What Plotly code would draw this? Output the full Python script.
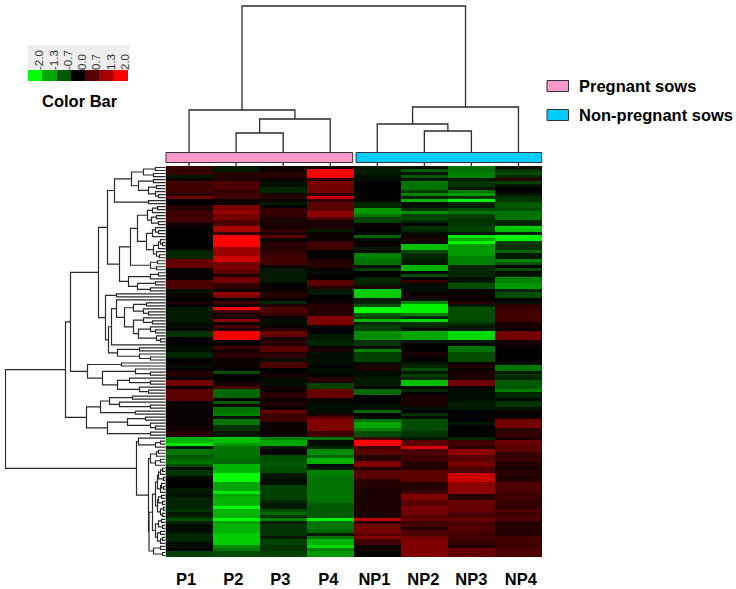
import plotly.graph_objects as go

samples = ["P1", "P2", "P3", "P4", "NP1", "NP2", "NP3", "NP4"]
P1 = [.4,.4,.4,-.2,.1,.5,.5,.5,.5,.3, .9,0,0,.3,.3,.5,.5,.5,.5,.1, .1,0,0,0,0,0,0,0,-.3,-.3,
      -.3,.8,.8,.8,.05,.05,.05,.05,.6,.6, .6,-.1,-.1,.1,0,.2,.05,-.2,-.2,-.2, -.2,-.2,-.1,-.1,0,-.4,-.4,0,0,0,
      -.1,-.1,-.3,-.3,0,.1,-.1,0,.3,.3, 0,.9,.9,.1,.7,.7,.7,.7,0,.05, .05,.05,.05,.05,.05,.05,.1,.1,.3,.3,
      -1.4,-1.4,-1.8,-.2,-.9,-.9,-.7,-.8,-.9,-.6, -.1,-.4,-.4,-.1,0,0,0,-.2,-.2,-.1,
      -.3,-.3,-.3,-.3,-.4,-.2,-.3,-.6,-.3,-.1, -.1,-.1,-.3,-.3,-.3,-.1,-.1,0,-.5,-.5]
P2 = [-.2,-.2,.3,.3,.3,.6,.6,.6,.4,.5, .5,.1,.1,1,1,1.2,.9,.9,.6,.6, 1.3,1.3,.4,2,2,2,2,1.2,1.2,1.2,
      1.6,1.6,.9,.9,.9,.7,.2,.9,.9,.4, .4,.1,1.2,.9,.05,.5,.2,2,.5,.2, .2,1.1,.1,.6,.3,1.9,1.9,1.9,0,0,
      .5,.2,.3,.3,.1,.1,.1,0,-.6,0, 0,0,.2,.6,-.8,-.8,-.8,0,-.7,0, -.9,-.9,-1,-.1,-.9,-.9,-.4,-.4,-.2,-.2,
      -1.5,-1.5,-1.2,-.9,-.9,-.9,-.9,-.8,-.8,-1.4, -1.4,-1.4,-2,-2,-2,-1.3,-1.3,-1.3,-1.8,-1.3,
      -1.4,-1.4,-1.4,-2,-1.4,-1.4,-1.4,-2,-1.3,-1.4, -1.4,-1.4,-1.6,-1.6,-1.6,-1.6,-1.1,-.9,-.6,-.6]
P3 = [.1,.1,.3,.3,.1,-.1,-.1,-.3,-.3,.2, .3,.1,-.2,0,.4,.4,.4,.2,.2,.2, .2,.4,.2,.7,.1,.3,.3,.3,.4,.4,
      .5,.5,.5,.1,-.2,-.2,-.2,-.2,-.2,0, 0,.1,.3,.3,.1,-.3,.2,.6,.6,.4, .1,-.1,-.1,.1,.3,.8,.8,.2,.3,.3,
      .7,.7,.3,.4,-.1,.6,.6,0,0,.2, -.1,-.1,-.1,.1,.1,.3,.3,.1,.2,.2, .1,.8,.5,.5,.5,.1,.1,.1,.1,.1,
      -1,-1.3,-1.3,-.2,0,0,-.6,-.6,-.7,-.7, -.6,-.6,-.2,-.2,-.1,-.1,-.5,-.5,-.5,-.5,
      -.5,-.3,-.2,-.2,-.6,-.8,-.4,-1,-.3,-.4, -.4,-.4,-.4,-.2,-.5,-.5,-.4,-.4,-.5,-.5]
P4 = [.2,2,2,2,.3,1,.9,.9,.9,.4, 1.6,.4,.7,.7,.7,1.1,1.1,.6,.2,.2, .2,-.2,.1,.1,.1,.5,.5,.5,0,0,
      0,.3,.3,.3,.1,-.1,.05,.05,.7,.7, .3,-.2,-.2,0,0,.1,.3,.3,.3,.3, 1,1,1,.1,0,0,-.2,-.2,-.3,-.3,
      .1,.2,-.1,-.1,-.1,-.1,0,-.1,-.1,0, .3,.3,-.5,-.5,.8,.8,.8,.1,-.1,-.1, -.1,-.1,.2,.7,1,1,1,1,.5,.5,
      -.9,-.1,-.1,-.3,-1.1,-1.1,-.8,-1.4,-1.4,-.1, -.2,-1,-1,-.9,-.9,-.9,-.9,-.9,-.9,-.9,
      -.9,-.9,-.7,-.7,-.7,-.7,-.7,-1.9,-.9,-.9, -.9,-.8,-.2,-.9,-1.4,-1.4,-1.7,-1,-1.2,-1.2]
NP1 = [-.2,-.2,-.2,-.1,-.1,0,0,0,0,0, 0,0,-.3,-.3,-1.2,-1.2,-.9,-.5,-.5,.1, 0,0,-.1,-.8,-.1,.05,.05,-.2,-.1,-1,
       -1,-.9,-.9,-.1,-.5,0,0,-.3,-.3,-.2, .2,-1.6,-1.6,-1.6,-.2,-.3,-.6,-2,-2,-.7, -.5,-1.4,-.3,-.5,-.5,-1.1,-1.1,-1.1,-.4,-.4,
       -.1,-1,-.5,-.5,-.5,-.1,.2,.2,-.1,-.1, -.2,-.2,-.2,0,-.8,-.8,0,0,0,-.1, -.1,-.8,0,-.1,-.9,-1.3,-1.3,-1,-.6,-.6,
       .5,2,2,.5,.7,.7,.3,.3,1,1, .3,.7,.7,.7,.3,.3,.3,.2,.2,.2,
       .2,.2,.2,.2,.2,.2,.2,1.5,.3,.9, .9,.9,.7,1,.5,.5,.1,.1,0,0]
NP2 = [-.1,-.7,-.2,-.7,-.2,-.9,-.9,-.9,-.5,-1, -.3,-1.4,-.1,-.1,-.4,-1.1,-.5,-.6,-.3,0, -.4,-.3,-.1,.1,.2,.1,-1.5,-1.5,-.6,-.3,
       -.3,-.2,-.2,-1.4,-1.4,0,-.6,0,.4,-.1, -.1,-.1,.05,.2,-.1,-1,-1.9,-1.9,-1.9,-1, -.3,-1.7,-.4,-.3,-.1,-1.3,-1.3,-1.3,-.2,0,
       0,0,.2,.1,0,-.2,-.3,-.6,-.2,-.5, -.3,-1.5,-1.5,-.1,-.3,0,.2,.2,.2,.2, -.1,0,-.4,-.1,-.6,-.6,-.6,-.6,-.4,-.4,
       -.2,.7,.7,1.7,.6,.6,.5,.5,.3,.3, .3,.7,.7,.7,.7,.3,.3,.3,.5,1,
       1,.7,.7,.9,.9,.9,.7,.8,.5,.5, .3,.6,.6,.9,1,1,1,1,1,1]
NP3 = [-.9,-.9,-1,-1,-.2,-.4,-.4,-.2,-.9,-1.2, -.4,-1.9,-.3,-.2,-.6,-.9,-.5,-.4,-.4,-.4, -.5,-.5,-.2,-1.8,-1.3,-2,-1.2,-1.2,-1.2,-1.2,
       -1,-1,-1,-.3,-.3,-.3,-.3,-.1,-.2,-.6, -.6,0,.05,.1,.1,.3,-.2,-.6,-.6,-.6, -.6,-.6,-.4,-.2,-.2,-1.7,-1.7,-1.7,-.2,0,
       -.9,-.9,-.6,-.6,-.6,0,.3,.1,.2,.2, .2,.9,.9,.1,-.1,-.1,-.1,-.1,-.2,-.2, -.2,0,0,0,0,-.2,0,0,0,0,
       -.3,.5,.5,.3,1.1,1.1,.7,.7,.9,.9, .6,.6,1.6,1.6,1.6,1.1,1.1,1.1,1.1,.3,
       .3,.8,.8,.8,.8,.6,.6,.8,.6,.6, .6,.6,.5,.5,.5,.4,.2,.8,.8,.8]
NP4 = [-.1,-.4,-.6,-.3,.3,-.5,-.2,0,0,-.2, -.4,-.4,-.7,-.7,-.6,-.9,-.9,-.9,-.3,-.3, -1.6,-1.5,-.3,-1.9,-1.9,-.5,-.4,-.4,-.8,-.2,
       -.2,-1,-.7,0,-.6,-.1,-.2,-1,-1,-1.2, -1.2,-.3,-.6,-.6,0,-.1,.4,.4,.5,.5, .5,.5,.2,.2,0,.9,.9,.9,.2,.1,
       .1,0,0,0,0,-.1,-.9,-.9,-.2,-.4, -.3,-.7,-.7,-.7,-1,-.3,-.3,-.1,-.4,-.4, -.2,.1,.05,.1,.9,.9,.9,.3,.4,.4,
       .2,.8,.8,.7,.7,.4,.4,.5,.3,.3, .2,.3,.3,.2,.3,.6,.6,.6,.5,.5,
       .5,.4,.4,.4,.6,.5,.5,.6,.3,.3, .3,.3,.3,.5,.5,.5,.5,.6,.6,.6]

# merge height found between each pair of neighbouring leaves of the dendrograms
col_merge_heights = [56, 33, 47, 160, 42, 35, 59]
row_merge_heights = [10,22,12,34,12,27,9,17,10,7, 51,17,58,8,13,18,9,14,7,28,
                     10,7,13,19,5,3,7,12,9,6, 35,8,15,9,46,7,15,37,10,28,
                     15,67,49,60,49,19,32,22,17,41, 22,13,32,15,10,27,9,5,54,57,
                     26,48,26,15,95,44,78,30,15,63, 36,15,48,26,17,100,33,56,46,15,
                     65,30,79,20,38,15,10,58,15,160, 27,5,10,29,7,9,15,5,10,17,
                     3,5,7,2,8,4,2,5,10,4, 7,3,8,2,5,3,13,4,7,3,
                     10,5,8,3,5,16.5,5,12,3]

bar_values = [-2.0, -1.3, -0.7, 0.0, 0.7, 1.3, 2.0]
bar_labels = ["-2.0", "-1.3", "-0.7", "0.0", "0.7", "1.3", "2.0"]
groups = ["Pregnant sows", "Non-pregnant sows"]
group_colors = ["#FF99CC", "#00CCFF"]
scale = [[0, "#00ff00"], [0.5, "#000000"], [1, "#ff0000"]]

columns = [P1, P2, P3, P4, NP1, NP2, NP3, NP4]
for c in columns:
    assert len(c) == 130, len(c)
assert len(row_merge_heights) == 129
z = [[c[r] for c in columns] for r in range(130)]

W, H = 736, 589
fx = lambda p: p / W
fy = lambda p: 1 - p / H


def tree_lines(gaps):
    pos, hts = [], []

    def build(lo, hi):
        if lo == hi:
            return float(lo), 0.0
        k = max(range(lo, hi), key=lambda i: gaps[i])
        p1, h1 = build(lo, k)
        p2, h2 = build(k + 1, hi)
        h = gaps[k]
        pos.extend([p1, p1, p2, p2, None])
        hts.extend([h1, h, h, h2, None])
        return (p1 + p2) / 2, h

    build(0, len(gaps))
    return pos, hts


fig = go.Figure()
fig.add_trace(go.Heatmap(z=z, x=list(range(8)), y=list(range(130)), colorscale=scale, zmin=-2, zmax=2,
                         showscale=False, xaxis="x", yaxis="y"))
cp, ch = tree_lines(col_merge_heights)
fig.add_trace(go.Scatter(x=cp, y=ch, mode="lines", line=dict(color="#2a2a2a", width=1.3),
                         xaxis="x", yaxis="y2", showlegend=False))
rp, rh = tree_lines(row_merge_heights)
fig.add_trace(go.Scatter(x=rh, y=rp, mode="lines", line=dict(color="#2a2a2a", width=1.2),
                         xaxis="x3", yaxis="y", showlegend=False))
fig.add_trace(go.Heatmap(z=[bar_values], colorscale=scale, zmin=-2, zmax=2, showscale=False,
                         xaxis="x4", yaxis="y4"))

blank = dict(showgrid=False, zeroline=False, showticklabels=False, ticks="")
shapes = [
    dict(type="rect", xref="paper", yref="paper", x0=fx(28), x1=fx(129), y0=fy(45), y1=fy(70.5),
         fillcolor="#eeeeee", line_width=0, layer="below"),
    dict(type="rect", xref="paper", yref="paper", x0=fx(166), x1=fx(352.7), y0=fy(162.5), y1=fy(152.5),
         fillcolor=group_colors[0], line=dict(color="#333333", width=1)),
    dict(type="rect", xref="paper", yref="paper", x0=fx(356), x1=fx(541.7), y0=fy(162.5), y1=fy(152.5),
         fillcolor=group_colors[1], line=dict(color="#333333", width=1)),
    dict(type="rect", xref="paper", yref="paper", x0=fx(547), x1=fx(568.5), y0=fy(91.5), y1=fy(80.5),
         fillcolor=group_colors[0], line=dict(color="#333333", width=1)),
    dict(type="rect", xref="paper", yref="paper", x0=fx(547), x1=fx(568.5), y0=fy(120.5), y1=fy(109.5),
         fillcolor=group_colors[1], line=dict(color="#333333", width=1)),
]
bold = dict(family="Liberation Sans", color="#000000", weight="bold")
annotations = [
    dict(text="Color Bar", x=fx(80), y=fy(101), xref="paper", yref="paper", xanchor="center", yanchor="middle",
         showarrow=False, font=dict(size=16.5, **bold)),
    dict(text=groups[0], x=fx(576.5), y=fy(86), xref="paper", yref="paper", xanchor="left", yanchor="middle",
         showarrow=False, font=dict(size=16.5, **bold)),
    dict(text=groups[1], x=fx(576.5), y=fy(115), xref="paper", yref="paper", xanchor="left", yanchor="middle",
         showarrow=False, font=dict(size=16.5, **bold)),
]
fig.update_layout(
    width=W, height=H, margin=dict(l=0, r=0, t=0, b=0), paper_bgcolor="white", plot_bgcolor="rgba(0,0,0,0)",
    showlegend=False, shapes=shapes, annotations=annotations,
    xaxis=dict(domain=[fx(165.5), fx(542)], anchor="y", range=[-0.5, 7.5], tickmode="array",
               tickvals=[-.06, -.06, -.06, -.04, -.06, -.02, 0, .05], ticktext=samples, showgrid=False,
               zeroline=False, ticks="", automargin=False, tickfont=dict(size=16.5, **bold), ticklabelstandoff=10),
    yaxis=dict(domain=[fy(557), fy(166)], anchor="x", range=[129.5, -0.5], **blank),
    yaxis2=dict(domain=[fy(166), fy(5)], anchor="x", range=[0, 161], **blank),
    xaxis3=dict(domain=[fx(5), fx(165.5)], anchor="y", range=[160.5, 0], **blank),
    xaxis4=dict(domain=[fx(28), fx(128)], anchor="y4", range=[-0.5, 6.5], side="top", tickmode="array",
                tickvals=[i + 0.31 for i in range(7)], ticktext=bar_labels, tickangle=-90, showgrid=False,
                zeroline=False, ticks="", automargin=False,
                tickfont=dict(size=11.5, family="Liberation Sans", color="#333333"), ticklabelstandoff=-1),
    yaxis4=dict(domain=[fy(81), fy(70)], anchor="x4", **blank),
)
fig.update_xaxes(tickvals=[i + d for i, d in enumerate([-.06, -.06, -.06, -.04, -.06, -.02, 0, .05])],
                 selector=dict(anchor="y"))
fig.write_html("out.html", config={"displayModeBar": False},
               post_script="document.body.style.margin='0';"
                           "document.querySelectorAll('.heatmaplayer image, .hm image')"
                           ".forEach(function(e){e.style.filter='blur(0.6px)';});")
